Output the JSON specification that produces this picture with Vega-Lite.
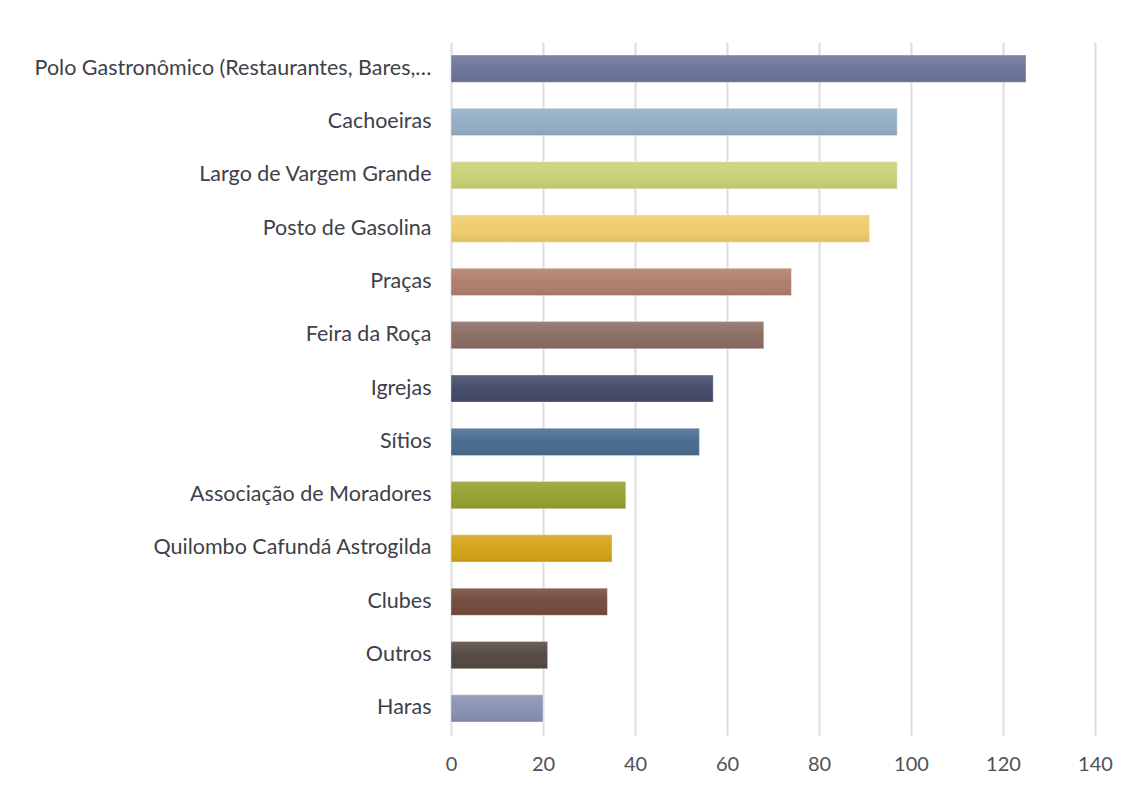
{
  "$schema": "https://vega.github.io/schema/vega-lite/v6.json",
  "autosize": {"type": "none"},
  "width": 644,
  "height": 693,
  "padding": {"left": 451, "top": 42, "right": 35, "bottom": 54},
  "background": "white",
  "config": {
    "view": {"stroke": null},
    "font": "Lato"
  },
  "data": {
    "values": [
      {"local": "Polo Gastronômico (Restaurantes, Bares,…", "valor": 125},
      {"local": "Cachoeiras", "valor": 97},
      {"local": "Largo de Vargem Grande", "valor": 97},
      {"local": "Posto de Gasolina", "valor": 91},
      {"local": "Praças", "valor": 74},
      {"local": "Feira da Roça", "valor": 68},
      {"local": "Igrejas", "valor": 57},
      {"local": "Sítios", "valor": 54},
      {"local": "Associação de Moradores", "valor": 38},
      {"local": "Quilombo Cafundá Astrogilda", "valor": 35},
      {"local": "Clubes", "valor": 34},
      {"local": "Outros", "valor": 21},
      {"local": "Haras", "valor": 20}
    ]
  },
  "encoding": {
    "y": {
      "field": "local",
      "type": "nominal",
      "sort": null,
      "scale": {"paddingInner": 0.49, "paddingOuter": 0.245},
      "axis": {
        "title": null,
        "domain": false,
        "ticks": false,
        "labelFontSize": 21.5,
        "labelColor": "#404048",
        "labelPadding": 20,
        "labelLimit": 0
      }
    },
    "x": {
      "field": "valor",
      "type": "quantitative",
      "scale": {"domain": [0, 140], "nice": false},
      "axis": {
        "title": null,
        "values": [0, 20, 40, 60, 80, 100, 120, 140],
        "domain": false,
        "ticks": false,
        "grid": true,
        "gridColor": "#dcdce3",
        "gridWidth": 2,
        "labelFlush": false,
        "labelFontSize": 20,
        "labelColor": "#505058",
        "labelPadding": 19
      }
    }
  },
  "layer": [
    {
      "mark": {"type": "bar"},
      "encoding": {
        "color": {
          "field": "local",
          "type": "nominal",
          "legend": null,
          "scale": {
            "domain": [
              "Polo Gastronômico (Restaurantes, Bares,…",
              "Cachoeiras",
              "Largo de Vargem Grande",
              "Posto de Gasolina",
              "Praças",
              "Feira da Roça",
              "Igrejas",
              "Sítios",
              "Associação de Moradores",
              "Quilombo Cafundá Astrogilda",
              "Clubes",
              "Outros",
              "Haras"
            ],
            "range": [
              "#6a7399",
              "#93adc4",
              "#c8d174",
              "#eecc6a",
              "#b07c6a",
              "#8a6c61",
              "#434a69",
              "#486a8e",
              "#94a02e",
              "#d4a216",
              "#73493b",
              "#534741",
              "#8890b0"
            ]
          }
        }
      }
    },
    {
      "mark": {
        "type": "bar",
        "stroke": "white",
        "strokeOpacity": 0.35,
        "strokeWidth": 1,
        "color": {
          "gradient": "linear",
          "x1": 0, "y1": 0, "x2": 0, "y2": 1,
          "stops": [
            {"offset": 0, "color": "rgba(255,255,255,0.14)"},
            {"offset": 0.5, "color": "rgba(255,255,255,0.02)"},
            {"offset": 1, "color": "rgba(0,0,0,0.07)"}
          ]
        }
      },
      "encoding": {}
    }
  ]
}
